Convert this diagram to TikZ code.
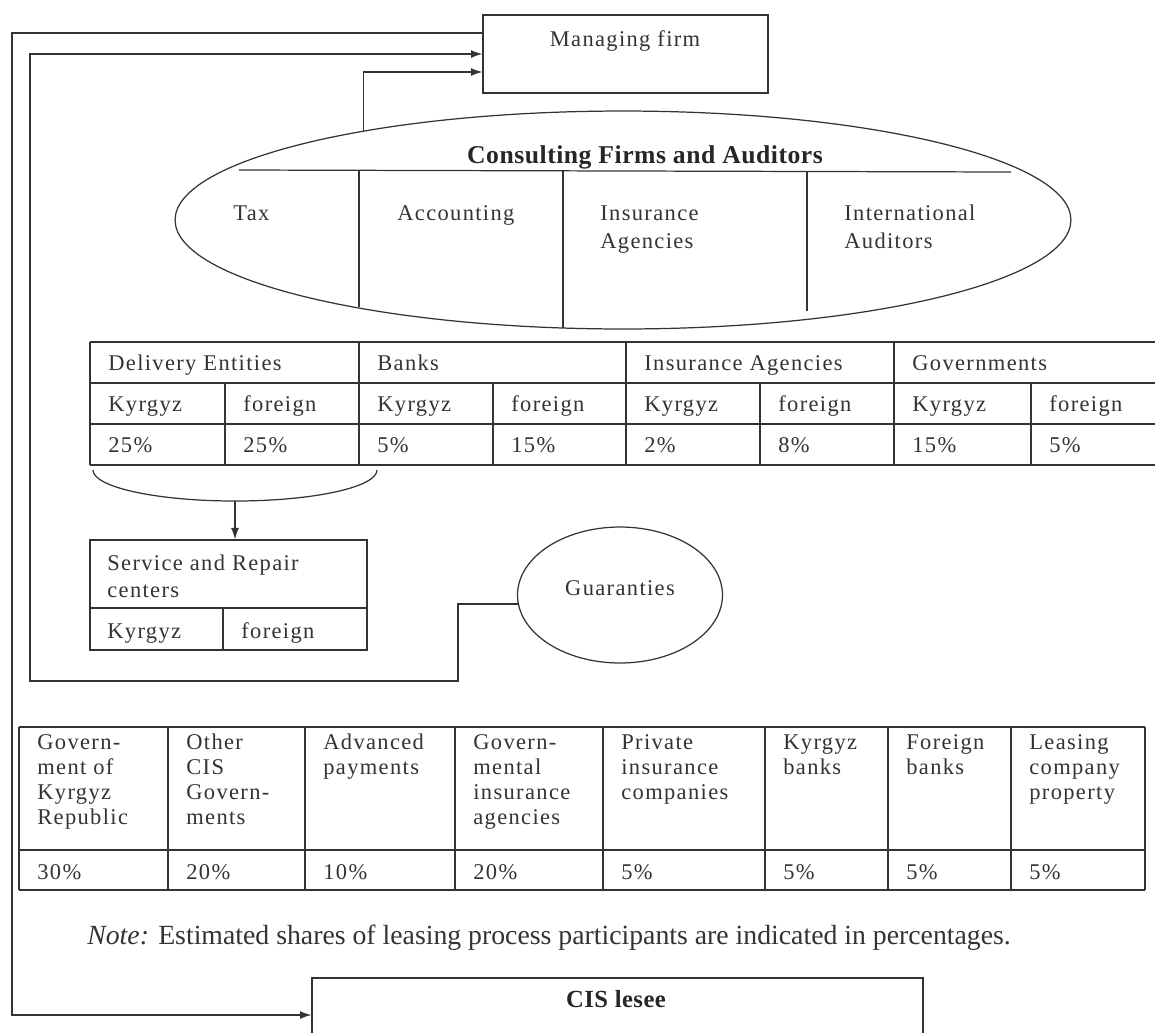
\documentclass[tikz,border=0pt]{standalone}
\usepackage{fontspec}
\setmainfont{Liberation Serif}
\newfontfamily\spacedfont[LetterSpace=6]{Liberation Serif}
\newfontfamily\titlefont[LetterSpace=2]{Liberation Serif}
\usetikzlibrary{arrows.meta, positioning, calc, shapes.geometric}

\begin{document}
\begin{tikzpicture}[x=0.02cm, y=-0.02cm, >={Latex[length=6.5pt,width=4.5pt]},
  wire/.style={draw=black!80, line width=0.7pt},
  conn/.style={wire, ->},
  txt/.style={font=\spacedfont\fontsize{12.8}{14.2}\selectfont, text=black!80, inner sep=0pt},
  cell/.style={txt, anchor=base west},
  head/.style={txt, anchor=north west, align=left},
  box/.style={wire, rectangle, inner sep=0pt},
  bold/.style={font=\titlefont\bfseries\fontsize{14}{16}\selectfont, text=black!85, inner sep=0pt, anchor=base}]
  \useasboundingbox (0,0) rectangle (1155,1032);
  \clip (0,0) rectangle (1155,1032);

  % --- Managing firm ---
  \node[box, minimum width=5.7cm, minimum height=1.56cm] (mf) at (625.5,54) {};
  \node[txt, anchor=base] (mftext) at (625,46) {Managing firm};

  % --- Consulting firms and auditors ---
  \node[wire, ellipse, minimum width=17.92cm, minimum height=4.36cm, inner sep=0pt] (cons) at (623,220) {};
  \node[bold, font=\titlefont\bfseries\fontsize{14.6}{16}\selectfont] (constitle) at (645,163) {Consulting Firms and Auditors};
  \draw[wire] (239,170) -- (1011,172);
  \draw[wire] (359,171) -- (359,307);
  \draw[wire] (563,171) -- (563,328);
  \draw[wire] (807,172) -- (807,311);
  \node[cell] (tax) at (233,220) {Tax};
  \node[cell] (acc) at (397,220) {Accounting};
  \node[cell] (ins) at (600,220) {Insurance};
  \node[cell] (insb) at (600,248) {Agencies};
  \node[cell] (intl) at (844,220) {International};
  \node[cell] (intlb) at (844,248) {Auditors};

  % --- Participants table ---
  \foreach \y in {342,383,424,465} \draw[wire] (90,\y) -- (1170,\y);
  \foreach \x in {90,359,626,894} \draw[wire] (\x,342) -- (\x,465);
  \foreach \x in {225,493,760,1031} \draw[wire] (\x,383) -- (\x,465);
  \node[cell] (deliv) at (108,370) {Delivery Entities};
  \node[cell] (banks) at (377,370) {Banks};
  \node[cell] (insag) at (644,370) {Insurance Agencies};
  \node[cell] (govs) at (912,370) {Governments};
  \foreach \x/\t [count=\i] in {108/Kyrgyz, 243/foreign, 377/Kyrgyz, 511/foreign,
      644/Kyrgyz, 778/foreign, 912/Kyrgyz, 1049/foreign}
    \node[cell] (orig\i) at (\x,411) {\t};
  \foreach \x/\t [count=\i] in {108/25, 243/25, 377/5, 511/15, 644/2, 778/8, 912/15, 1049/5}
    \node[cell] (share\i) at (\x,452) {\t\%};

  % --- Service and repair centers ---
  \draw[wire] (93,470) arc[start angle=180, end angle=0, x radius=142, y radius=31];
  \coordinate (brc) at (235,501);
  \node[box, minimum width=5.54cm, minimum height=2.2cm] (svc) at (228.5,595) {};
  \draw[conn] (brc) -- (brc |- svc.north);
  \draw[wire] (90,608) -- (367,608);
  \draw[wire] (223,608) -- (223,650);
  \node[cell] (svct) at (107,570) {Service and Repair};
  \node[cell] (svcb) at (107,597) {centers};
  \node[cell] (svck) at (107,638) {Kyrgyz};
  \node[cell] (svcf) at (241,638) {foreign};

  % --- Guaranties ---
  \node[wire, ellipse, minimum width=4.1cm, minimum height=2.72cm, inner sep=0pt] (guar) at (620,595) {};
  \node[txt, anchor=base] (guart) at (620,595) {Guaranties};

  % --- Guarantee sources table ---
  \foreach \y in {727,850,890} \draw[wire] (19,\y) -- (1145,\y);
  \foreach \x in {19,168,305,455,603,765,888,1011,1145} \draw[wire] (\x,727) -- (\x,890);
  \node[head] (src1) at (37,734) {Govern-\\ment of\\Kyrgyz\\Republic};
  \node[head] (src2) at (186,734) {Other\\CIS\\Govern-\\ments};
  \node[head] (src3) at (323,734) {Advanced\\payments};
  \node[head] (src4) at (473,734) {Govern-\\mental\\insurance\\agencies};
  \node[head] (src5) at (621,734) {Private\\insurance\\companies};
  \node[head] (src6) at (783,734) {Kyrgyz\\banks};
  \node[head] (src7) at (906,734) {Foreign\\banks};
  \node[head] (src8) at (1029,734) {Leasing\\company\\property};
  \foreach \x/\t [count=\i] in {37/30, 186/20, 323/10, 473/20, 621/5, 783/5, 906/5, 1029/5}
    \node[cell] (pct\i) at (\x,879) {\t\%};

  % --- Note and lessee ---
  \node[anchor=base west, inner sep=0pt, font=\fontsize{15.8}{18}\selectfont, text=black!80] (note) at (87,944)
    {\textit{Note:} Estimated shares of leasing process participants are indicated in percentages.};
  \node[box, minimum width=12.22cm, minimum height=1.48cm] (cis) at (617.5,1015) {};
  \node[bold] (cistext) at (616,1007) {CIS lesee};

  % --- connectors ---
  \draw[conn] ($(mf.west)+(0,-21)$) -| (12,1015) -- (cis.west);
  \draw[conn] (guar.185) -| (458,681) -| (30,54) -- (mf.west);
  \draw[conn] (cons.161.5) |- ($(mf.west)+(0,18)$);
\end{tikzpicture}
\end{document}
